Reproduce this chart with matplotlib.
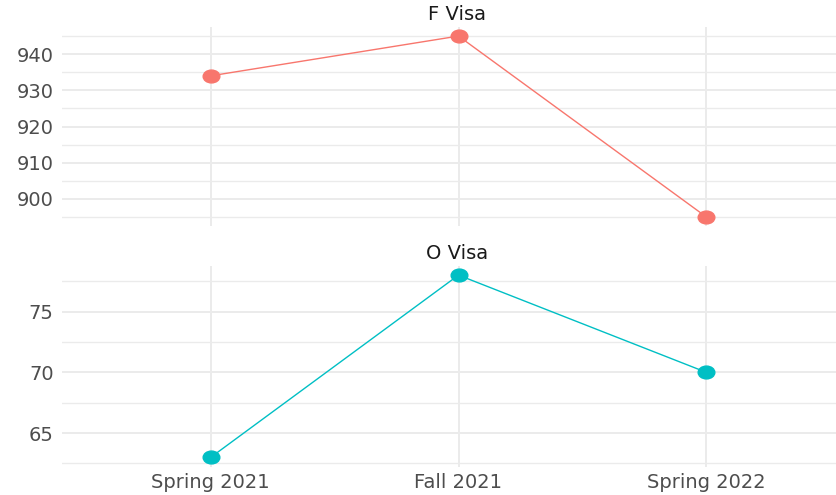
import numpy as np
import matplotlib
matplotlib.use("Agg")
import matplotlib.pyplot as plt
from matplotlib.path import Path
from matplotlib.transforms import Affine2D
from matplotlib.ticker import MultipleLocator

# ── data ──────────────────────────────────────────────────────────────────────
terms = ["Spring 2021", "Fall 2021", "Spring 2022"]
f_visa = [934, 945, 895]
o_visa = [63, 78, 70]

panels = [
    ("F Visa", f_visa, "#F8766D", 10, 5),
    ("O Visa", o_visa, "#00BFC4", 5, 2.5),
]

# the reference is slightly stretched sideways, so the points are ellipses
ellipse = Path.unit_circle().transformed(Affine2D().scale(1.3, 1.0))

fig = plt.figure(figsize=(8.36, 4.95), dpi=100)
W, H = 836, 495
left, right = 62, 855
boxes = [(27, 226), (266, 466.5)]   # top/bottom pixel edges of each panel

x = np.arange(len(terms))
for i, ((title, vals, col, major, minor), (top, bot)) in enumerate(zip(panels, boxes)):
    ax = fig.add_axes([left / W, 1 - bot / H, (right - left) / W, (bot - top) / H])
    ax.plot(x, vals, color=col, lw=1.0, zorder=3)
    ax.plot(x, vals, ls="none", marker=ellipse, ms=12, color=col, zorder=4)

    lo, hi = min(vals), max(vals)
    pad = (hi - lo) * 0.05
    ax.set_ylim(lo - pad, hi + pad)
    ax.set_xlim(-0.6, len(terms) - 1 + 0.6)

    ax.yaxis.set_major_locator(MultipleLocator(major))
    ax.yaxis.set_minor_locator(MultipleLocator(minor))
    ax.set_xticks(x)
    ax.set_xticklabels(terms if i == 1 else [])

    ax.grid(which="major", color="#EBEBEB", lw=1.4)
    ax.grid(which="minor", axis="y", color="#EBEBEB", lw=1.0)
    ax.set_axisbelow(True)
    for s in ax.spines.values():
        s.set_visible(False)
    ax.tick_params(which="both", length=0, labelsize=14, labelcolor="#4D4D4D")
    ax.tick_params(axis="y", pad=6)
    ax.tick_params(axis="x", pad=5)

    ax.set_title(title, fontsize=14, color="#1A1A1A", pad=5)
    # center title over the visible part of the figure
    ax.title.set_position(((457 - left) / (right - left), 1.0))

fig.savefig("out.png", dpi=100)
